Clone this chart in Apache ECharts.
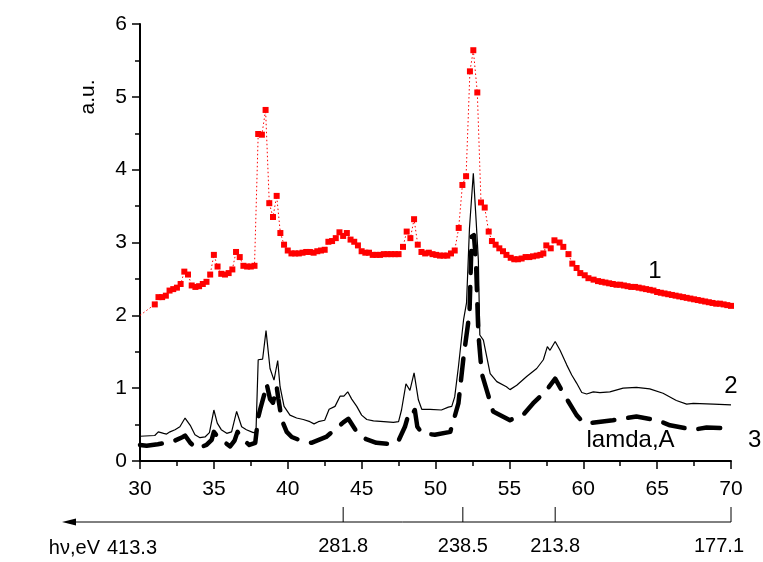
<!DOCTYPE html>
<html>
<head>
<meta charset="utf-8">
<script src="https://cdn.jsdelivr.net/npm/echarts@6/dist/echarts.min.js"></script>
<style>
  html, body { margin: 0; padding: 0; background: #fff; }
  #chart { width: 763px; height: 562px; }
</style>
</head>
<body>
<div id="chart"></div>
<script>
// Curve 1: red square markers joined by a dotted line (wavelength, intensity)
const curve1X = [30, 31.0, 31.25, 31.5, 31.75, 32.0, 32.25, 32.5, 32.75, 33.0, 33.25, 33.5, 33.75, 34.0, 34.25, 34.5, 34.75,
  35.0, 35.25, 35.5, 35.75, 36.0, 36.25, 36.5, 36.75, 37.0, 37.25, 37.5, 37.75, 38.0, 38.25, 38.5, 38.75,
  39.0, 39.25, 39.5, 39.75, 40.0, 40.25, 40.5, 40.75, 41.0, 41.25, 41.5, 41.75, 42.0, 42.25, 42.5, 42.75,
  43.0, 43.25, 43.5, 43.75, 44.0, 44.25, 44.5, 44.75, 45.0, 45.25, 45.5, 45.75, 46.0, 46.25, 46.5, 46.75,
  47.0, 47.25, 47.5, 47.8, 48.05, 48.3, 48.55, 48.8, 49.05, 49.3, 49.55, 49.8, 50.05, 50.3, 50.55, 50.8,
  51.05, 51.3, 51.57, 51.82, 52.07, 52.33, 52.56, 52.83, 53.08, 53.33, 53.6, 53.82, 54.07, 54.32, 54.57, 54.8,
  55.09, 55.33, 55.58, 55.83, 56.1, 56.35, 56.6, 56.85, 57.1, 57.3, 57.5, 57.8, 58.05, 58.4, 58.65, 59.0,
  59.26, 59.55, 59.8, 60.1, 60.35, 60.7, 61.0, 61.25, 61.5, 61.75, 62.0, 62.25, 62.5, 62.75, 63.0, 63.25,
  63.5, 63.75, 64.0, 64.25, 64.5, 64.75, 65.0, 65.25, 65.5, 65.75, 66.0, 66.25, 66.5, 66.75, 67.0, 67.25,
  67.5, 67.75, 68.0, 68.25, 68.5, 68.75, 69.0, 69.25, 69.5, 69.75, 70.0];
const curve1Y = [2.0, 2.15, 2.25, 2.25, 2.27, 2.34, 2.36, 2.38, 2.43, 2.60, 2.56, 2.41, 2.39, 2.40, 2.43, 2.46, 2.56,
  2.83, 2.67, 2.57, 2.56, 2.58, 2.63, 2.87, 2.80, 2.68, 2.67, 2.67, 2.68, 4.49, 4.48, 4.82, 3.54,
  3.35, 3.64, 3.13, 2.97, 2.89, 2.85, 2.85, 2.85, 2.86, 2.87, 2.87, 2.86, 2.88, 2.89, 2.90, 3.01,
  3.02, 3.06, 3.14, 3.09, 3.13, 3.04, 3.01, 2.96, 2.88, 2.86, 2.86, 2.83, 2.83, 2.83, 2.84, 2.84,
  2.84, 2.84, 2.84, 2.94, 3.15, 3.06, 3.32, 2.97, 2.87, 2.85, 2.86, 2.84, 2.83, 2.82, 2.82, 2.82,
  2.85, 2.89, 3.20, 3.79, 3.91, 5.35, 5.64, 5.06, 3.55, 3.48, 3.15, 3.02, 2.97, 2.92, 2.88, 2.83,
  2.79, 2.77, 2.77, 2.78, 2.80, 2.80, 2.81, 2.82, 2.83, 2.85, 2.96, 2.92, 3.03, 3.00, 2.94, 2.84,
  2.71, 2.65, 2.58, 2.55, 2.51, 2.49, 2.47, 2.46, 2.45, 2.44, 2.43, 2.42, 2.42, 2.41, 2.40, 2.39,
  2.39, 2.38, 2.37, 2.36, 2.35, 2.34, 2.32, 2.31, 2.30, 2.29, 2.28, 2.27, 2.26, 2.25, 2.24, 2.23,
  2.22, 2.21, 2.20, 2.19, 2.18, 2.17, 2.16, 2.16, 2.15, 2.14, 2.13];

// Curve 2: thin solid black line
const curve2X = [30, 31.0, 31.24, 31.6, 31.8, 32.03, 32.37, 32.7, 33.05, 33.4, 33.72, 34.06, 34.4, 34.7, 35.0, 35.23,
  35.5, 35.87, 36.2, 36.54, 36.88, 37.2, 37.67, 37.85, 38.0, 38.3, 38.53, 38.8, 39.07, 39.32, 39.48, 39.75,
  40.15, 40.6, 41.05, 41.5, 41.78, 42.07, 42.5, 42.8, 43.2, 43.54, 43.8, 44.06, 44.33, 44.67, 45.0, 45.35,
  45.8, 46.5, 47.15, 47.5, 47.7, 48.0, 48.27, 48.55, 48.84, 49.07, 49.63, 50.4, 50.87, 51.1, 51.3, 51.55,
  51.9, 52.1, 52.3, 52.56, 52.75, 52.9, 53.0, 53.24, 53.47, 53.7, 54.15, 54.8, 55.04, 55.5, 56.17, 56.85,
  57.3, 57.57, 57.75, 58.1, 58.43, 58.88, 59.22, 59.55, 59.9, 60.23, 60.68, 61.13, 61.8, 62.7, 63.6, 64.5,
  65.4, 66.3, 67.0, 67.45, 68.8, 70.0];
const curve2Y = [0.34, 0.35, 0.40, 0.38, 0.37, 0.40, 0.43, 0.47, 0.59, 0.49, 0.36, 0.32, 0.33, 0.39, 0.70, 0.52,
  0.43, 0.38, 0.40, 0.68, 0.47, 0.43, 0.39, 0.40, 1.39, 1.40, 1.79, 1.27, 1.11, 1.38, 1.02, 0.75,
  0.63, 0.59, 0.57, 0.54, 0.51, 0.54, 0.56, 0.71, 0.75, 0.89, 0.89, 0.95, 0.85, 0.75, 0.63, 0.57,
  0.55, 0.54, 0.53, 0.54, 0.70, 1.06, 0.97, 1.21, 0.84, 0.71, 0.71, 0.70, 0.74, 0.75, 0.88, 1.29,
  1.94, 2.17, 3.20, 3.95, 3.30, 2.76, 1.73, 1.66, 1.43, 1.20, 1.09, 1.02, 0.98, 1.04, 1.16, 1.27,
  1.39, 1.57, 1.52, 1.64, 1.52, 1.32, 1.18, 1.07, 0.94, 0.92, 0.95, 0.94, 0.95, 1.00, 1.01, 0.99,
  0.93, 0.83, 0.78, 0.79, 0.78, 0.77];

// Curve 3: heavy dashed black line
const curve3X = [30.0, 30.45, 31.2, 31.8, 32.25, 32.9, 33.05, 33.4, 33.84, 34.5, 34.85, 35.0, 35.3, 35.64, 36.1, 36.4,
  36.6, 37.0, 37.4, 37.8, 38.0, 38.15, 38.46, 38.57, 38.8, 39.0, 39.25, 39.36, 39.6, 39.93, 40.27, 41.0,
  41.6, 42.6, 43.3, 43.76, 44.1, 44.67, 45.3, 46.0, 47.15, 47.5, 47.93, 48.16, 48.3, 48.6, 48.77, 49.1,
  49.96, 51.0, 51.1, 51.55, 51.9, 52.3, 52.45, 52.6, 52.74, 52.9, 53.13, 53.47, 53.9, 55.04, 56.0, 56.6,
  57.5, 58.1, 58.65, 59.55, 60.0, 60.46, 62.0, 63.6, 65.0, 65.87, 67.45, 68.35, 70.0];
const curve3Y = [0.22, 0.21, 0.23, 0.25, 0.27, 0.33, 0.35, 0.25, 0.17, 0.22, 0.29, 0.40, 0.32, 0.27, 0.20, 0.28,
  0.40, 0.29, 0.22, 0.25, 0.60, 0.72, 0.95, 1.06, 0.85, 0.80, 1.02, 0.86, 0.56, 0.40, 0.33, 0.27,
  0.25, 0.33, 0.45, 0.53, 0.58, 0.40, 0.30, 0.25, 0.23, 0.28, 0.47, 0.63, 0.60, 0.70, 0.47, 0.38,
  0.36, 0.40, 0.42, 0.79, 1.43, 2.03, 3.08, 3.10, 2.74, 1.75, 1.20, 0.97, 0.68, 0.56, 0.65, 0.79,
  0.97, 1.13, 0.93, 0.63, 0.53, 0.52, 0.56, 0.61, 0.56, 0.49, 0.43, 0.46, 0.45];

// Photon energy scale under the wavelength axis (eV ticks at wavelengths in Å)
const evTickLambda = [43.75, 51.85, 58.1, 70];
const evTickLabels = ['281.8', '238.5', '213.8', '177.1'];
const evStartLabel = '413.3';

const xTicks = { min: 30, max: 70, interval: 5 };
const yTicks = { min: 0, max: 6, interval: 1 };

const FONT = '"Liberation Sans", Arial, Helvetica, sans-serif';
const TICK_FONT = 21;
const EV_FONT = 20;

function pairs(xs, ys) { return xs.map((x, i) => [x, ys[i]]); }

const c1 = pairs(curve1X, curve1Y).map((p, i) => i === 0 ? { value: p, symbol: 'none' } : p);

const chart = echarts.init(document.getElementById('chart'), null, { renderer: 'canvas' });

const axisCommon = {
  axisLine: { show: true, lineStyle: { color: '#000', width: 2 } },
  axisTick: { show: true, inside: false, length: 8, lineStyle: { color: '#000', width: 1.5 } },
  minorTick: { show: true, splitNumber: 2, length: 5, lineStyle: { color: '#000', width: 1.5 } },
  splitLine: { show: false },
  axisLabel: { color: '#000', fontFamily: FONT, fontSize: TICK_FONT }
};

chart.setOption({
  animation: false,
  backgroundColor: '#fff',
  grid: { left: 140, right: 32, top: 24, bottom: 101, containLabel: false, outerBoundsMode: 'none' },
  xAxis: Object.assign({}, axisCommon, {
    type: 'value', min: xTicks.min, max: xTicks.max, interval: xTicks.interval,
    axisLabel: Object.assign({}, axisCommon.axisLabel, { margin: 18 })
  }),
  yAxis: Object.assign({}, axisCommon, {
    type: 'value', min: yTicks.min, max: yTicks.max, interval: yTicks.interval,
    axisLabel: Object.assign({}, axisCommon.axisLabel, { margin: 13 })
  }),
  series: [
    {
      name: '1', type: 'line', data: c1, smooth: false,
      symbol: 'rect', symbolSize: 6, showAllSymbol: true,
      itemStyle: { color: '#ff0000' },
      lineStyle: { color: '#ff0000', width: 1, type: [1.5, 2.5] },
      z: 3
    },
    {
      name: '2', type: 'line', data: pairs(curve2X, curve2Y), symbol: 'none',
      lineStyle: { color: '#000', width: 1.2 }, z: 2
    },
    {
      name: '3', type: 'line', data: pairs(curve3X, curve3Y), symbol: 'none',
      lineStyle: { color: '#000', width: 4.5, type: [22, 14], cap: 'round', join: 'round' }, z: 2
    }
  ]
});

// Annotations and the energy scale, placed through the chart's own coordinate conversion
function px(x, y) { return chart.convertToPixel({ gridIndex: 0 }, [x, y]); }
const txt = (x, y, text, extra, size) => ({
  type: 'text', x, y, silent: true,
  style: Object.assign({ text, fill: '#000', font: (size || 24) + 'px ' + FONT, align: 'center', verticalAlign: 'middle' }, extra || {})
});

const axisY = px(30, 0)[1] + 61;
const x30 = px(30, 0)[0];
const x70 = px(70, 0)[0];
const elements = [];

// arrow line pointing towards higher energy
elements.push({ type: 'line', shape: { x1: x70, y1: axisY, x2: 74, y2: axisY }, style: { stroke: '#000', lineWidth: 1 } });
elements.push({ type: 'polygon', shape: { points: [[62, axisY], [76, axisY - 3.5], [76, axisY + 3.5]] }, style: { fill: '#000' } });
evTickLambda.forEach((lam, i) => {
  const xp = px(lam, 0)[0];
  elements.push({ type: 'line', shape: { x1: xp, y1: axisY - 15, x2: xp, y2: axisY }, style: { stroke: '#000', lineWidth: 1 } });
  const shift = i === evTickLambda.length - 1 ? -12 : 0;
  elements.push(txt(xp + shift, axisY + 24, evTickLabels[i], null, EV_FONT));
});
elements.push(txt(x30 - 33, axisY + 26, evStartLabel, { align: 'left' }, EV_FONT));
elements.push(txt(x30 - 40, axisY + 26, 'h\u03bd,eV', { align: 'right' }, EV_FONT));

// vertical axis caption
elements.push({ type: 'text', x: 88, y: 97, rotation: Math.PI / 2, silent: true,
  style: { text: 'a.u.', fill: '#000', font: TICK_FONT + 'px ' + FONT, align: 'center', verticalAlign: 'middle' } });

// curve numbers and the wavelength caption
const p1 = px(64.85, 2.6);
elements.push(txt(p1[0], p1[1], '1'));
const p2 = px(70, 1.03);
elements.push(txt(p2[0], p2[1], '2'));
const p3 = px(71.6, 0.29);
elements.push(txt(p3[0], p3[1], '3'));
const pl = px(63.2, 0.29);
elements.push(txt(pl[0], pl[1], 'lamda,A'));

chart.setOption({ graphic: { elements } });
</script>
</body>
</html>
